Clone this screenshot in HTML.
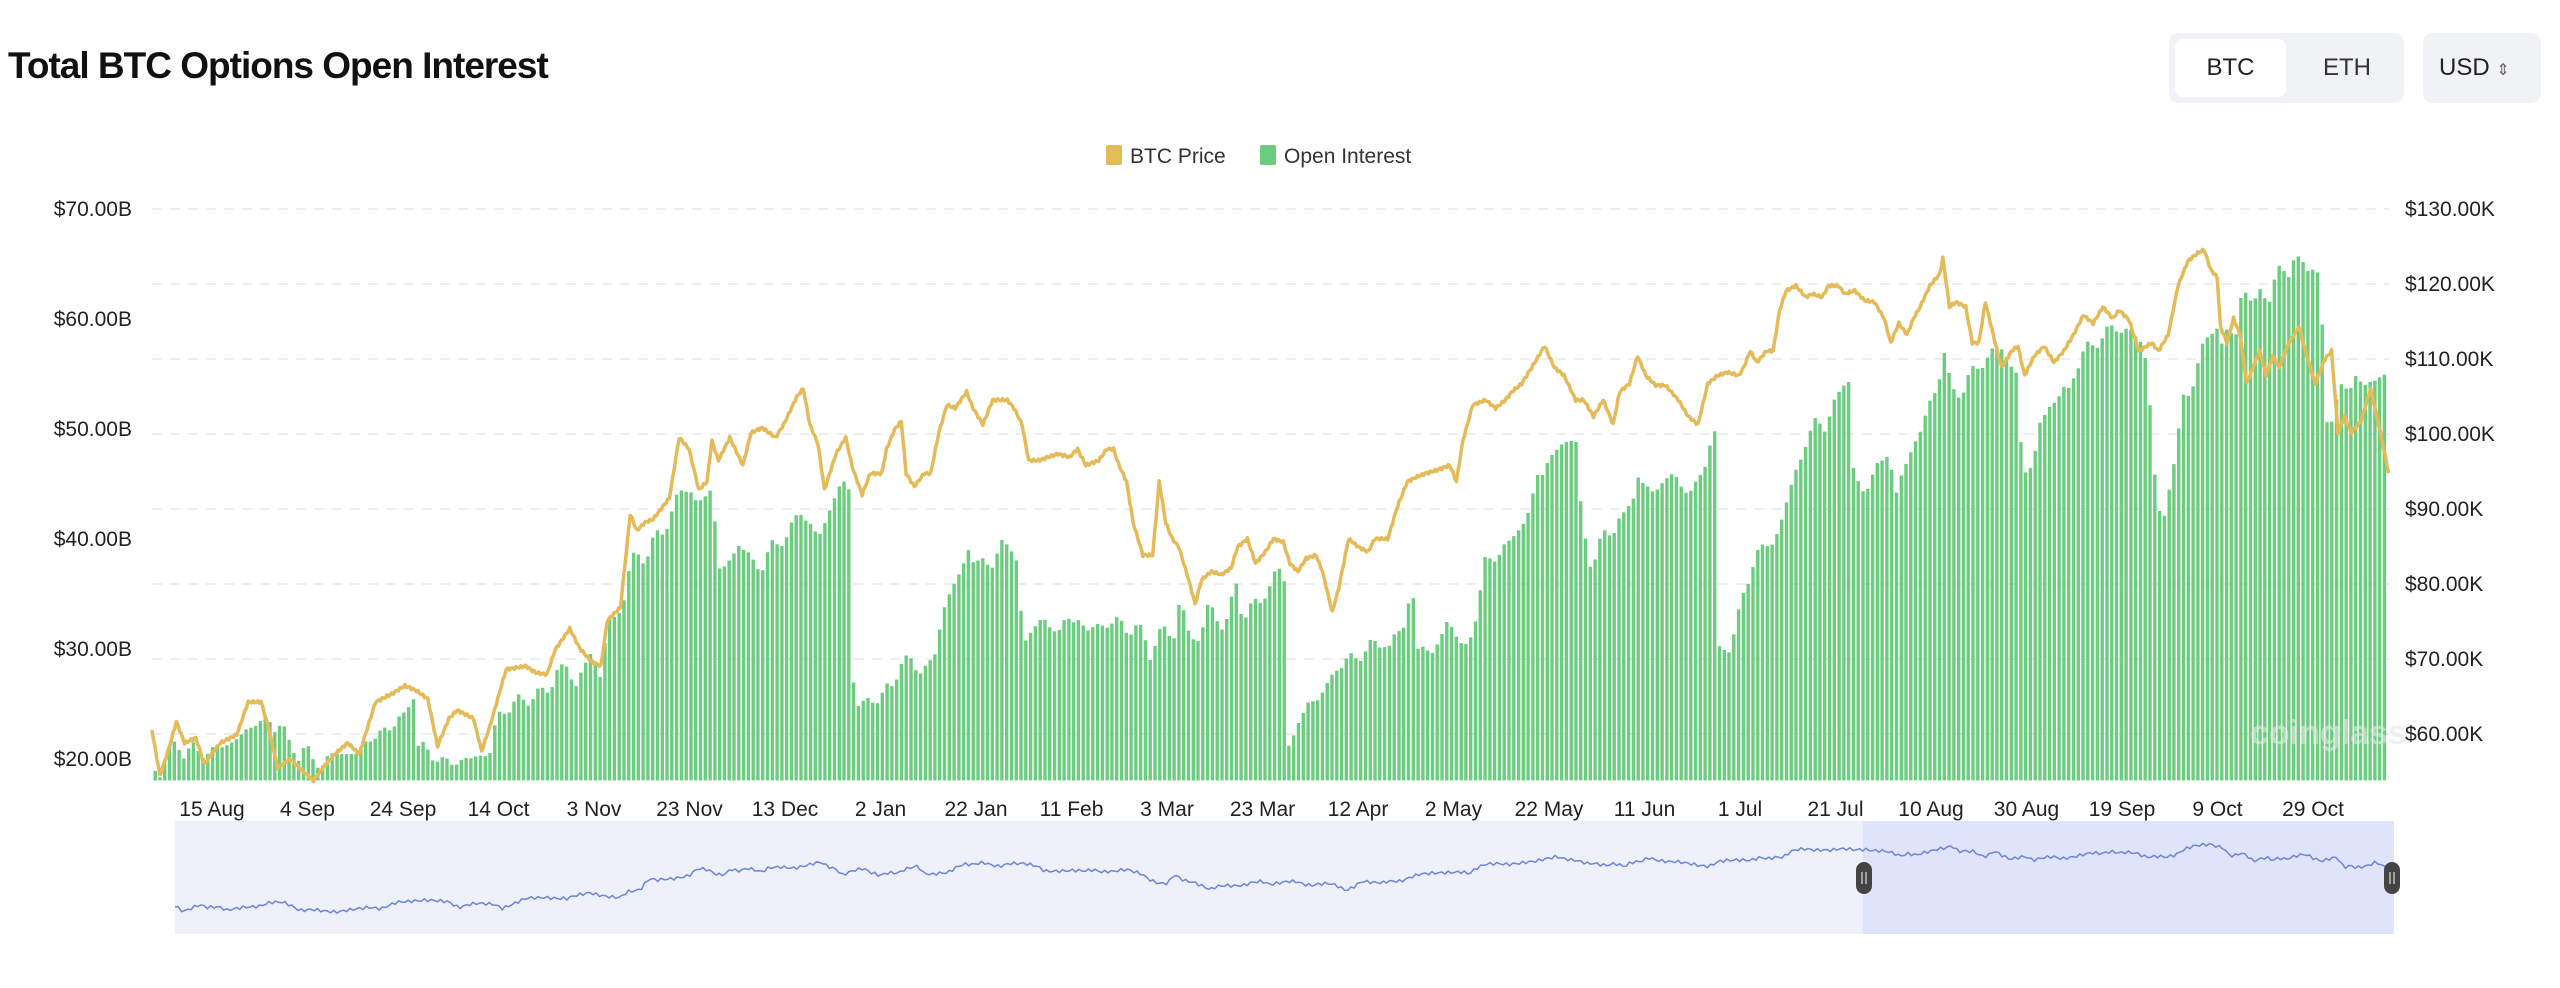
<!DOCTYPE html>
<html><head><meta charset="utf-8"><style>
html,body{margin:0;padding:0;background:#fff;width:2560px;height:988px;overflow:hidden;font-family:"Liberation Sans",sans-serif;}
.title{position:absolute;left:8px;top:45px;font-size:37px;font-weight:bold;color:#111;letter-spacing:-1px;}
.grp{position:absolute;left:2169px;top:33px;width:235px;height:70px;background:#f1f2f5;border-radius:10px;}
.btc{position:absolute;left:6px;top:6px;width:111px;height:58px;background:#fff;border-radius:8px;font-size:24px;color:#222;text-align:center;line-height:58px;}
.eth{position:absolute;left:128px;top:6px;width:100px;height:58px;font-size:24px;color:#333;text-align:center;line-height:58px;}
.usd{position:absolute;left:2423px;top:33px;width:118px;height:70px;background:#f1f2f5;border-radius:10px;font-size:24px;color:#222;line-height:70px;padding-left:16px;box-sizing:border-box;}
</style></head><body>
<div class="title">Total BTC Options Open Interest</div>
<div class="grp"><div class="btc">BTC</div><div class="eth">ETH</div></div>
<div class="usd">USD <span style="font-size:16px;color:#666">&#8661;</span></div>
<svg id="s" width="2560" height="988" style="position:absolute;left:0;top:0" xmlns="http://www.w3.org/2000/svg"></svg>
<script>
var S=1.6327,svg=document.getElementById('s'),h='';
h+='<rect x="1106" y="145" width="16" height="20" rx="2" fill="#e5bb5a"/><text x="1130" y="163" font-size="21" fill="#333">BTC Price</text>';
h+='<rect x="1260" y="145" width="16" height="20" rx="2" fill="#6ccc7f"/><text x="1284" y="163" font-size="21" fill="#333">Open Interest</text>';
for(var i=0;i<8;i++){var y=209+i*75;h+='<line x1="152" x2="2389" y1="'+y+'" y2="'+y+'" stroke="#e8e8e8" stroke-width="1.5" stroke-dasharray="10,8"/>';}
var L=['$70.00B','$60.00B','$50.00B','$40.00B','$30.00B','$20.00B'];
for(i=0;i<6;i++)h+='<text x="132" y="'+(216+i*110)+'" font-size="21" text-anchor="end" fill="#222">'+L[i]+'</text>';
var R=['$130.00K','$120.00K','$110.00K','$100.00K','$90.00K','$80.00K','$70.00K','$60.00K'];
for(i=0;i<8;i++)h+='<text x="2405" y="'+(216+i*75)+'" font-size="21" fill="#222">'+R[i]+'</text>';
var X=['15 Aug','4 Sep','24 Sep','14 Oct','3 Nov','23 Nov','13 Dec','2 Jan','22 Jan','11 Feb','3 Mar','23 Mar','12 Apr','2 May','22 May','11 Jun','1 Jul','21 Jul','10 Aug','30 Aug','19 Sep','9 Oct','29 Oct'];
for(i=0;i<X.length;i++)h+='<text x="'+(212+i*95.5)+'" y="816" font-size="21" text-anchor="middle" fill="#222">'+X[i]+'</text>';
function interp(k,x){if(x<=k[0][0])return k[0][1];for(var j=1;j<k.length;j++){if(x<=k[j][0]){var a=k[j-1],b=k[j];return a[1]+(b[1]-a[1])*(x-a[0])/(b[0]-a[0]);}}return k[k.length-1][1];}
var OI=[[94,472],[97,476],[100,465],[104,458],[108,455],[112,462],[118,458],[125,462],[132,458],[140,455],[148,450],[155,442],[162,442],[168,445],[172,440],[174,455],[178,458],[182,462],[186,458],[190,465],[196,468],[200,465],[206,460],[212,462],[218,462],[224,452],[230,452],[240,442],[248,440],[252,415],[253,455],[260,460],[268,465],[275,468],[282,465],[288,465],[295,462],[300,460],[303,440],[308,435],[315,430],[322,428],[330,425],[336,420],[340,412],[346,408],[352,420],[356,410],[362,398],[366,418],[368,400],[372,380],[376,380],[380,370],[384,350],[388,340],[392,342],[396,338],[400,330],[405,325],[410,315],[414,305],[418,298],[422,300],[426,310],[430,305],[434,300],[437,320],[440,350],[446,345],[452,330],[456,340],[460,345],[466,346],[472,335],[478,330],[482,328],[486,318],[490,312],[494,320],[500,330],[504,320],[508,310],[512,300],[515,295],[518,300],[520,300],[522,430],[528,432],[534,428],[540,425],[546,420],[550,405],[556,405],[562,410],[568,408],[572,400],[576,375],[582,360],[588,350],[592,335],[596,345],[600,345],[606,345],[612,335],[618,335],[620,330],[622,345],[626,400],[632,380],[636,380],[642,385],[648,385],[652,378],[656,382],[660,380],[666,385],[672,385],[678,380],[684,382],[690,385],[696,385],[700,390],[704,402],[708,390],[712,385],[718,390],[722,365],[726,385],[730,392],[734,392],[738,370],[742,375],[746,385],[750,378],[756,360],[760,378],[764,370],[770,372],[774,362],[778,355],[782,350],[786,355],[788,455],[792,450],[796,440],[800,430],[806,428],[812,420],[818,408],[824,405],[830,402],[836,398],[840,395],[846,392],[850,398],[856,385],[860,380],[864,355],[866,400],[870,395],[876,400],[882,390],[886,380],[890,385],[896,400],[900,390],[904,370],[908,345],[912,345],[918,335],[924,335],[928,322],[932,320],[936,315],[940,290],[944,290],[948,280],[954,275],[960,268],[964,267],[966,302],[972,345],[976,340],[980,330],[986,325],[990,318],[994,318],[1000,300],[1002,290],[1006,300],[1012,300],[1018,295],[1024,290],[1030,300],[1036,300],[1042,290],[1046,270],[1050,265],[1052,400],[1058,395],[1062,385],[1068,360],[1074,340],[1080,335],[1086,330],[1090,320],[1094,305],[1098,290],[1102,280],[1108,265],[1112,255],[1116,262],[1120,255],[1124,245],[1128,232],[1132,232],[1134,290],[1138,300],[1144,295],[1150,285],[1156,275],[1160,305],[1164,290],[1168,280],[1172,270],[1176,262],[1180,250],[1184,240],[1188,225],[1190,215],[1194,240],[1200,240],[1206,230],[1212,222],[1218,218],[1222,215],[1226,210],[1230,225],[1234,230],[1238,290],[1244,285],[1248,260],[1252,255],[1256,245],[1262,240],[1266,240],[1270,225],[1276,215],[1282,210],[1288,205],[1294,200],[1300,202],[1306,205],[1312,210],[1316,250],[1320,310],[1324,320],[1328,295],[1332,275],[1336,245],[1340,240],[1346,220],[1350,210],[1356,195],[1360,215],[1364,200],[1368,205],[1372,180],[1378,185],[1384,175],[1388,190],[1392,172],[1396,160],[1400,170],[1404,160],[1410,160],[1416,165],[1420,175],[1424,255],[1428,255],[1432,240],[1438,235],[1442,230],[1446,240],[1450,232],[1456,232],[1460,230],[1462,255]];
var P=[[93,447],[98,475],[103,460],[108,442],[113,455],[120,452],[125,468],[135,455],[145,450],[152,430],[160,430],[165,448],[170,470],[178,465],[185,472],[192,478],[198,470],[205,462],[213,455],[220,462],[230,430],[240,425],[248,420],[255,423],[262,428],[268,457],[275,440],[280,435],[290,440],[295,460],[300,445],[310,410],[322,408],[328,412],[335,413],[340,398],[349,385],[355,397],[362,405],[368,408],[372,380],[380,372],[386,315],[390,325],[395,320],[400,318],[410,305],[416,268],[422,275],[428,300],[433,295],[436,270],[440,282],[447,268],[455,285],[460,265],[467,262],[475,268],[480,260],[488,243],[492,238],[496,260],[501,272],[505,300],[512,278],[518,268],[522,286],[528,303],[533,290],[540,290],[543,275],[548,263],[552,258],[555,290],[560,298],[566,290],[570,290],[575,265],[580,248],[585,250],[592,240],[596,250],[602,260],[608,245],[617,245],[621,250],[626,260],[630,282],[636,282],[648,278],[655,280],[660,275],[665,285],[673,282],[678,275],[682,275],[685,284],[690,295],[694,320],[700,340],[706,340],[710,295],[714,320],[718,330],[722,335],[728,355],[732,370],[736,355],[742,350],[748,352],[754,348],[758,335],[764,330],[769,345],[775,338],[780,330],[786,332],[790,345],[795,350],[800,342],[806,340],[810,350],[816,375],[820,360],[826,330],[832,335],[838,338],[842,330],[850,330],[856,310],[862,295],[868,292],[873,290],[880,288],[888,285],[892,295],[896,270],[902,248],[910,245],[916,250],[922,245],[926,240],[932,235],[940,222],[946,212],[952,225],[958,230],[965,245],[970,245],[976,255],[982,245],[988,260],[992,240],[998,235],[1003,218],[1008,230],[1014,236],[1020,236],[1028,245],[1034,255],[1040,260],[1046,235],[1052,230],[1058,228],[1065,230],[1068,225],[1072,215],[1076,222],[1082,215],[1086,215],[1090,190],[1094,178],[1100,175],[1106,182],[1110,180],[1116,182],[1120,175],[1126,175],[1130,180],[1136,178],[1142,184],[1148,185],[1154,195],[1158,210],[1163,198],[1168,205],[1172,195],[1176,188],[1182,175],[1188,168],[1190,158],[1194,188],[1198,185],[1204,188],[1208,210],[1212,210],[1216,185],[1222,210],[1226,225],[1232,215],[1236,212],[1240,230],[1246,218],[1252,212],[1258,222],[1264,215],[1270,205],[1276,193],[1282,198],[1288,188],[1294,195],[1298,190],[1304,196],[1310,215],[1318,210],[1322,215],[1328,205],[1334,175],[1340,160],[1346,155],[1350,153],[1354,165],[1358,170],[1360,200],[1364,210],[1368,195],[1372,205],[1376,235],[1380,225],[1384,215],[1388,230],[1392,218],[1396,225],[1402,210],[1408,200],[1412,215],[1418,235],[1424,220],[1428,215],[1432,265],[1436,255],[1440,265],[1446,258],[1452,238],[1458,265],[1463,290]];
var base=478,bars='';
for(var x=94;x<=1462;x+=2.93){var t=interp(OI,x)+Math.sin(x*1.7)*2.5+Math.sin(x*0.53)*2;if(t>base-2)t=base-2;bars+='<rect x="'+(x*S).toFixed(1)+'" y="'+(t*S).toFixed(1)+'" width="3.4" height="'+((base-t)*S).toFixed(1)+'"/>';}
h+='<g fill="#6ccc7f">'+bars+'</g>';
var pts=[];for(x=93;x<=1463;x+=1){var y=interp(P,x)+Math.sin(x*2.3)*0.8;pts.push((x*S).toFixed(1)+','+(y*S).toFixed(1));}
h+='<polyline points="'+pts.join(' ')+'" fill="none" stroke="#e5bb5a" stroke-width="3.5" stroke-linejoin="round"/>';
h+='<text x="2250" y="744" font-size="34" font-weight="bold" fill="#e6e6e6" opacity="0.6">coinglass</text>';
h+='<rect x="175" y="821" width="2219" height="113" fill="#eef1fa"/>';
h+='<rect x="1863" y="821" width="531" height="113" fill="#dfe4fb"/>';
var np=[],nx;for(x=93;x<=1463;x+=2){nx=175+(x-93)/(1463-93)*2219;var pr=130-(interp(P,x)-128)/4.59;var ny=911-(pr-55)*0.96+Math.sin(x*1.9)*1.5;np.push(nx.toFixed(1)+','+ny.toFixed(1));}
h+='<polyline points="'+np.join(' ')+'" fill="none" stroke="#6d84da" stroke-width="1.5"/>';
h+='<rect x="1856" y="862" width="16" height="32" rx="8" fill="#444"/><rect x="2384" y="862" width="16" height="32" rx="8" fill="#444"/>';
h+='<line x1="1862" x2="1862" y1="872" y2="884" stroke="#fff"/><line x1="1866" x2="1866" y1="872" y2="884" stroke="#fff"/><line x1="2390" x2="2390" y1="872" y2="884" stroke="#fff"/><line x1="2394" x2="2394" y1="872" y2="884" stroke="#fff"/>';
svg.innerHTML=h;
</script>
</body></html>
